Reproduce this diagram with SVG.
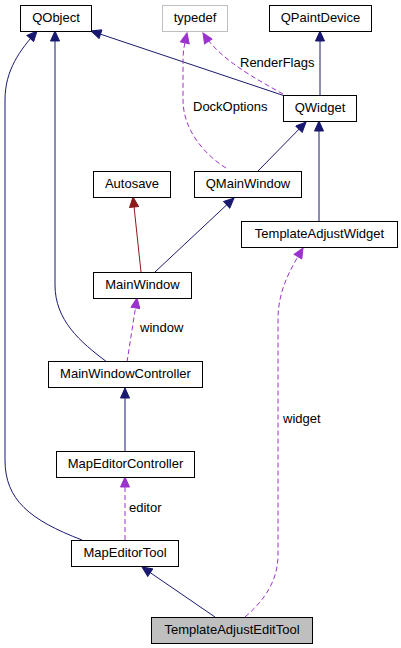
<svg xmlns="http://www.w3.org/2000/svg" width="401" height="648" viewBox="0 0 401 648">
<style>
.box{fill:#ffffff;stroke:#000000;stroke-width:1}
.txt{font-family:"Liberation Sans",Arial,sans-serif;font-size:13px;fill:#000000;text-anchor:middle}
.lbl{font-family:"Liberation Sans",Arial,sans-serif;font-size:13px;fill:#000000}
.inh{fill:none;stroke:#191970;stroke-width:1}
.prot{fill:none;stroke:#8b1a1a;stroke-width:1}
.use{fill:none;stroke:#9a32cd;stroke-width:1;stroke-dasharray:5,3}
</style>
<defs>
<marker id="aNavy" markerUnits="userSpaceOnUse" markerWidth="12" markerHeight="10" refX="11" refY="5" orient="auto">
<path d="M1,0.5 L11,5 L1,9.5 z" fill="#191970" stroke="#191970" stroke-dasharray="none"/>
</marker>
<marker id="aRed" markerUnits="userSpaceOnUse" markerWidth="12" markerHeight="10" refX="11" refY="5" orient="auto">
<path d="M1,0.5 L11,5 L1,9.5 z" fill="#8b1a1a" stroke="#8b1a1a" stroke-dasharray="none"/>
</marker>
<marker id="aPurple" markerUnits="userSpaceOnUse" markerWidth="12" markerHeight="10" refX="11" refY="5" orient="auto">
<path d="M1,0.5 L11,5 L1,9.5 z" fill="#9a32cd" stroke="#9a32cd" stroke-dasharray="none"/>
</marker>
</defs>
<g id="connectors">
<path class="inh" d="M285,96 L91,31" marker-end="url(#aNavy)"/>
<path class="use" d="M283,94 C258,80 220,60 203,33" marker-end="url(#aPurple)"/>
<path class="use" d="M226,168 C205,155 183,130 183,100 L183,60 C183,50 185,42 187,33" marker-end="url(#aPurple)"/>
<path class="inh" d="M320,95 L320,31" marker-end="url(#aNavy)"/>
<path class="inh" d="M258,171 L306,122" marker-end="url(#aNavy)"/>
<path class="inh" d="M319,222 L319,121" marker-end="url(#aNavy)"/>
<path class="inh" d="M82,540 C30,520 5,500 5,460 L5,100 C5,70 20,50 37,31" marker-end="url(#aNavy)"/>
<path class="inh" d="M107,362 C80,342 55,320 55,285 L55,31" marker-end="url(#aNavy)"/>
<path class="prot" d="M141,272 L133,197" marker-end="url(#aRed)"/>
<path class="inh" d="M155,272 L234,198" marker-end="url(#aNavy)"/>
<path class="use" d="M127,362 L137,298" marker-end="url(#aPurple)"/>
<path class="use" d="M245,617 C265,600 278,580 278,555 L278,320 C278,290 290,270 303,248" marker-end="url(#aPurple)"/>
<path class="inh" d="M125,451 L125,388" marker-end="url(#aNavy)"/>
<path class="use" d="M125,540 L125,477" marker-end="url(#aPurple)"/>
<path class="inh" d="M215,617 L142,567" marker-end="url(#aNavy)"/>
<text class="lbl" x="240" y="67">RenderFlags</text>
<text class="lbl" x="193" y="111">DockOptions</text>
<text class="lbl" x="140" y="332">window</text>
<text class="lbl" x="283" y="423">widget</text>
<text class="lbl" x="129" y="512">editor</text>
</g>
<g id="QObject"><rect class="box" x="20.5" y="5.5" width="71" height="26"/><text class="txt" x="56" y="22">QObject</text></g>
<g id="typedef"><rect class="box" style="stroke:#bfbfbf" x="162.5" y="5.5" width="65" height="26"/><text class="txt" x="195" y="22">typedef</text></g>
<g id="QPaintDevice"><rect class="box" x="269.5" y="5.5" width="102" height="26"/><text class="txt" x="320.5" y="22">QPaintDevice</text></g>
<g id="QWidget"><rect class="box" x="283.5" y="95.5" width="73" height="26"/><text class="txt" x="320" y="112">QWidget</text></g>
<g id="Autosave"><rect class="box" x="93.5" y="171.5" width="77" height="26"/><text class="txt" x="132" y="188">Autosave</text></g>
<g id="QMainWindow"><rect class="box" x="194.5" y="171.5" width="107" height="26"/><text class="txt" x="248" y="188">QMainWindow</text></g>
<g id="TemplateAdjustWidget"><rect class="box" x="241.5" y="221.5" width="156" height="26"/><text class="txt" x="319.5" y="238">TemplateAdjustWidget</text></g>
<g id="MainWindow"><rect class="box" x="93.5" y="272.5" width="98" height="26"/><text class="txt" x="142.5" y="289">MainWindow</text></g>
<g id="MainWindowController"><rect class="box" x="48.5" y="361.5" width="154" height="26"/><text class="txt" x="125.5" y="378">MainWindowController</text></g>
<g id="MapEditorController"><rect class="box" x="56.5" y="451.5" width="138" height="26"/><text class="txt" x="125.5" y="468">MapEditorController</text></g>
<g id="MapEditorTool"><rect class="box" x="71.5" y="540.5" width="107" height="26"/><text class="txt" x="125" y="557">MapEditorTool</text></g>
<g id="TemplateAdjustEditTool"><rect class="box" style="fill:#bfbfbf" x="151.5" y="617.5" width="161" height="26"/><text class="txt" x="232" y="634">TemplateAdjustEditTool</text></g>
</svg>
